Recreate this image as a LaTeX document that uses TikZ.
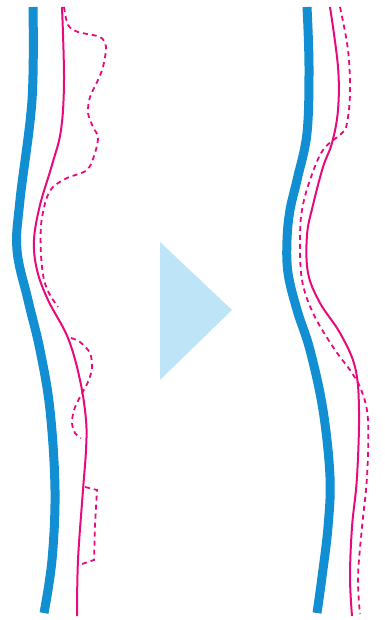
\documentclass[tikz,border=0pt]{standalone}
\definecolor{cblue}{RGB}{18,142,210}
\definecolor{cmag}{RGB}{232,10,125}
\definecolor{ctri}{RGB}{190,228,248}
\tikzset{
  bluewall/.style={cblue, line width=9pt, line cap=butt},
  magsolid/.style={cmag, line width=2pt},
  magdash/.style={cmag, line width=1.8pt, dash pattern=on 5pt off 4pt}
}
\begin{document}
\begin{tikzpicture}[x=1pt,y=-1pt]
\useasboundingbox (0,0) rectangle (384,620);
% triangle arrow
\fill[ctri] (160,242) -- (232,310) -- (160,380) -- cycle;
% ---------- left ----------
\draw[bluewall] plot[smooth, tension=0.6] coordinates {(33,7) (32,100) (20,200) (17,250) (28,300) (40,350) (50,410) (55,490) (52,560) (44,613)};
\draw[magsolid] plot[smooth, tension=0.6] coordinates {(62,7) (64,80) (61,130) (52,165) (40,205) (34,240) (37,270) (48,300) (68,338) (80,380) (86,420) (86,450) (83,490) (78,560) (77,616)};
\draw[magdash] plot[smooth, tension=0.5] coordinates {(64,7) (68,25) (78,32) (100,37) (106,47) (103,67) (98,80) (90,97) (88,113) (93,127) (98,137) (95,153) (87,170) (67,178) (53,187) (46,200) (41,225) (41,255) (44,280) (50,295) (58,307)};
\draw[magdash] plot[smooth, tension=0.5] coordinates {(71,338) (80,342) (90,353) (92,368) (88,382) (80,397) (74,410) (72,423) (75,433) (81,438)};
\draw[magdash] (85,487) -- (97,490) -- (95,525) -- (94,560) -- (82,564);
% ---------- right ----------
\draw[bluewall] plot[smooth, tension=0.6] coordinates {(307,7) (309,67) (307,133) (297,180) (290,210) (287,240) (288,273) (297,310) (310,350) (323,410) (330,477) (328,527) (322,577) (317,613)};
\draw[magsolid] plot[smooth, tension=0.6] coordinates {(330,7) (338,67) (338,110) (332,143) (323,167) (313,205) (307,235) (308,273) (320,303) (340,333) (355,367) (359,410) (357,477) (352,527) (350,577) (352,616)};
\draw[magdash] plot[smooth, tension=0.6] coordinates {(340,7) (348,50) (350,93) (347,123) (342,133) (323,150) (310,180) (302,210) (300,240) (302,280) (313,313) (333,347) (352,373) (362,392) (368,420) (367,477) (362,527) (358,577) (360,614)};
\end{tikzpicture}
\end{document}
